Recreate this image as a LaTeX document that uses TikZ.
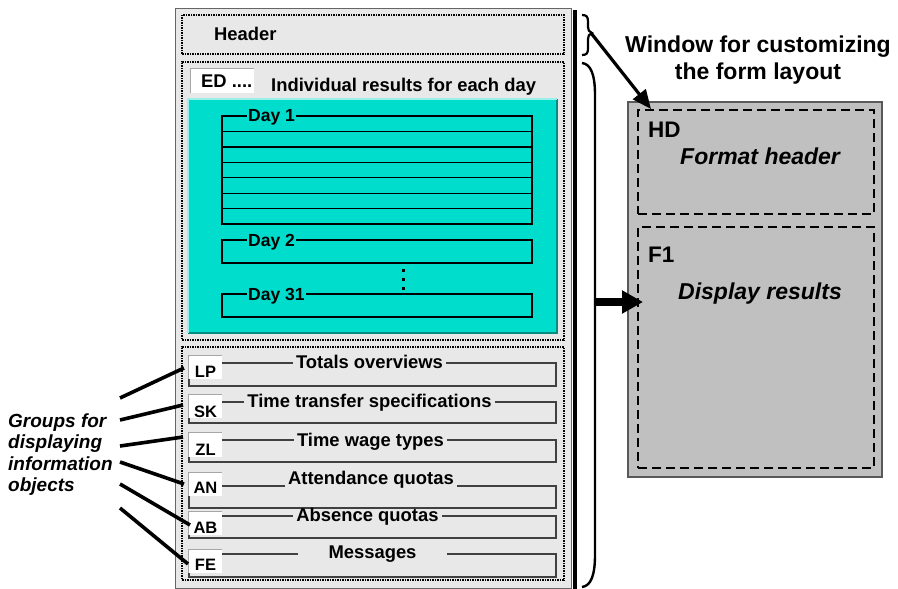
\documentclass[tikz,border=0pt]{standalone}
\usepackage{fontspec}
\setmainfont{Liberation Sans}
\usetikzlibrary{arrows.meta,fit}
\definecolor{panel}{HTML}{E8E8E8}
\definecolor{tealfill}{HTML}{00DDCC}
\definecolor{tealdark}{HTML}{008C80}
\definecolor{rgray}{HTML}{C0C0C0}
\begin{document}
\begin{tikzpicture}[x=1pt,y=-1pt,
  fbox/.style={fit={#1}, inner sep=0pt},
  dotbox/.style={draw=black, line width=1.2pt, dash pattern=on 2pt off 1pt on 1pt off 1pt},
  rowbox/.style={draw=black!75, line width=1.2pt, fill=panel},
  lblbox/.style={fill=white},
  daybox/.style={draw=black, line width=1.2pt},
  conn/.style={line width=3.6pt},
  rdash/.style={draw=black, line width=1.4pt, dash pattern=on 9pt off 5pt},
  t18/.style={font=\fontsize{18.4}{21}\selectfont\bfseries, inner sep=0pt},
  t17/.style={font=\fontsize{17.5}{20}\selectfont\bfseries},
  t16/.style={font=\fontsize{16.5}{19}\selectfont\bfseries, inner sep=0pt},
  t22/.style={font=\fontsize{22.5}{27}\selectfont\bfseries, inner sep=0pt},
  t23i/.style={font=\fontsize{23}{27}\selectfont\bfseries\itshape, inner sep=0pt},
  rowtitle/.style={font=\fontsize{18.4}{21}\selectfont\bfseries, fill=panel, inner xsep=3pt, inner ysep=0pt, text height=12.5pt, text depth=4pt, anchor=base},
  daylbl/.style={t17, fill=tealfill, inner xsep=1pt, inner ysep=0pt, text height=12pt, text depth=3.5pt, anchor=base west},
]
\useasboundingbox (0,0) rectangle (898,589);

% left panel
\node[fbox={(175,8)(571,588)}, fill=panel, draw=black!60, line width=0.8pt] (panel) {};
\draw[line width=4pt] (575,10) -- (575,589);

% header
\node[fbox={(182,15)(564,54)}, dotbox] (hdrbox) {};
\node[t18, anchor=base west] (hdrtxt) at (214,40.7) {Header};

% individual results
\node[fbox={(182,62)(564,340)}, dotbox] (resbox) {};
\node[fbox={(191,69)(254,93)}, fill=white] (edbox) {};
\draw[gray!70, line width=1pt] (edbox.south west) -- (edbox.north west) -- (edbox.north east);
\node[t18, anchor=base west] (edtxt) at (201,87.3) {ED ....};
\node[t18, anchor=base west] (indiv) at (271,91.5) {Individual results for each day};

\node[fbox={(188,99)(557,333)}, fill=tealfill] (teal) {};
\draw[tealdark, line width=2pt] (teal.north east) -- (teal.south east) -- (teal.south west);
\draw[white!60!tealfill, line width=1.5pt] (teal.south west) -- (teal.north west) -- (teal.north east);

\node[fbox={(222,116)(532,224)}, daybox] (day1) {};
\foreach \yy in {131.4,146.9,162.3,177.7,193.1,208.6}
  \draw[line width=1.2pt] (222,\yy) -- (532,\yy);
\node[daylbl] (d1lbl) at (247,121.7) {Day 1};

\node[fbox={(222,240)(532,263)}, daybox] (day2) {};
\node[daylbl] (d2lbl) at (247,246) {Day 2};

\foreach \yy in {270,279,288}
  \fill (401.5,\yy-1.5) rectangle +(3,3);

\node[fbox={(222,294)(532,317)}, daybox] (day31) {};
\node[daylbl] (d31lbl) at (247,300) {Day 31};

% groups
\node[fbox={(182,347)(564,580)}, dotbox] (grpbox) {};

\node[fbox={(189,363)(556,386)}, rowbox] (rowlp) {};
\node[fbox={(189,356)(222,379)}, lblbox] (lp) {};
\node[t16, anchor=base] (lptxt) at (205.5,377) {LP};
\node[rowtitle] (lptitle) at (369.5,368) {Totals overviews};

\node[fbox={(189,402)(556,423)}, rowbox] (rowsk) {};
\node[fbox={(189,395)(222,418)}, lblbox] (sk) {};
\node[t16, anchor=base] (sktxt) at (205.5,417) {SK};
\node[rowtitle] (sktitle) at (369.5,407) {Time transfer specifications};

\node[fbox={(189,440)(556,462)}, rowbox] (rowzl) {};
\node[fbox={(189,433)(222,457)}, lblbox] (zl) {};
\node[t16, anchor=base] (zltxt) at (205.5,455) {ZL};
\node[rowtitle] (zltitle) at (370.5,446) {Time wage types};

\node[fbox={(189,486)(556,508)}, rowbox] (rowan) {};
\node[fbox={(189,473)(222,496)}, lblbox] (an) {};
\node[t16, anchor=base] (antxt) at (205.5,493) {AN};
\node[rowtitle] (antitle) at (371,484) {Attendance quotas};

\node[fbox={(189,516)(556,538)}, rowbox] (rowab) {};
\node[fbox={(189,512)(222,535)}, lblbox] (ab) {};
\node[t16, anchor=base] (abtxt) at (205.5,533) {AB};
\node[rowtitle] (abtitle) at (367.5,521.5) {Absence quotas};

\node[fbox={(189,554)(556,577)}, rowbox] (rowfe) {};
\node[fbox={(189,550)(222,573)}, lblbox] (fe) {};
\node[t16, anchor=base] (fetxt) at (205.5,570) {FE};
\node[rowtitle, inner xsep=31pt] (fetitle) at (372.5,558.3) {Messages};

\foreach \n in {lp,sk,zl,an,ab,fe}
  \draw[gray!70, line width=1pt] (\n.south west) -- (\n.north west) -- (\n.north east);

% left caption and connectors
\node[font=\fontsize{19}{21.3}\selectfont\bfseries\itshape, align=left, anchor=north west, inner sep=0pt] (groups) at (8,413.5) {Groups for\\displaying\\information\\objects};
\coordinate (s1) at (120,398); \coordinate (e1) at (184,368);
\coordinate (s2) at (120,420); \coordinate (e2) at (183,405);
\coordinate (s3) at (120,446); \coordinate (e3) at (183,437);
\coordinate (s4) at (120,462); \coordinate (e4) at (184,484);
\coordinate (s5) at (120,484); \coordinate (e5) at (190,525);
\coordinate (s6) at (120,508); \coordinate (e6) at (188,564);
\foreach \i in {1,...,6} \draw[conn] (s\i) -- (e\i);

% right side
\node[font=\fontsize{23}{27.5}\selectfont\bfseries, inner sep=0pt, align=center, anchor=north] (wintxt) at (758,35.5) {Window for customizing\\the form layout};

\node[fbox={(628,102)(882,477)}, fill=rgray, draw=black!65, line width=1.3pt] (rpanel) {};
\node[fbox={(638,110)(874,214)}, rdash] (hd) {};
\node[fbox={(638,227)(874,468)}, rdash] (f1) {};
\node[t22, anchor=base west] (hdtxt) at (648,137) {HD};
\node[t23i, anchor=base west] (fmt) at (680,164) {Format header};
\node[t22, anchor=base west] (f1txt) at (648,262.7) {F1};
\node[t23i, anchor=base west] (disp) at (678,299) {Display results};

% braces and arrows
\draw[line width=2.2pt] (582,15) .. controls (587,15) and (588,17) .. (588,22) -- (588,27) .. controls (588,30) and (589,32) .. (592,33) .. controls (589,34) and (588,36) .. (588,39) -- (588,48) .. controls (588,53) and (587,55) .. (582,55);
\coordinate (sbtip) at (591,33);
\coordinate (hdin) at (651,109);
\draw[line width=3.2pt, -{Triangle[length=19pt,width=16pt]}] (sbtip) -- (hdin);

\draw[line width=2.4pt] (582,63) .. controls (591,64) and (595,75) .. (595,95) -- (595,555) .. controls (595,575) and (591,586) .. (582,587);
\coordinate (bigtip) at (595,302);
\coordinate (f1in) at (643,302);
\draw[line width=8pt, -{Triangle[length=21pt,width=22pt]}] (bigtip) -- (f1in);
\end{tikzpicture}
\end{document}
